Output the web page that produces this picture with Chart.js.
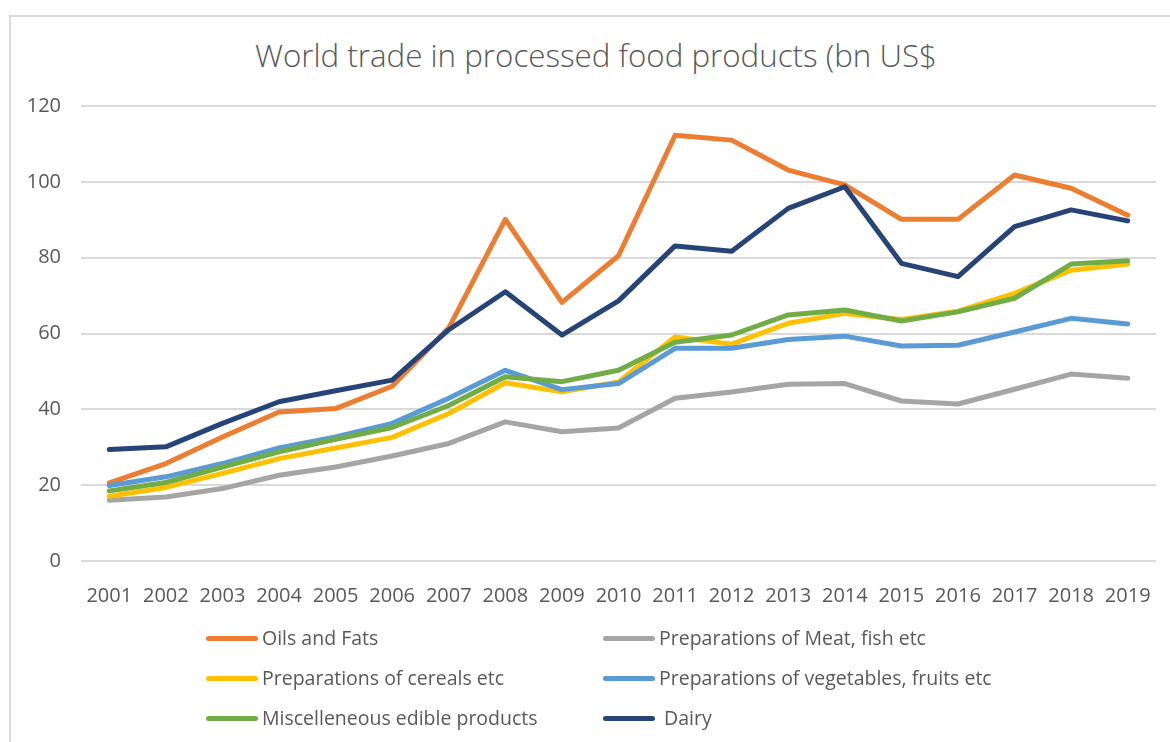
<!DOCTYPE html>
<html>
<head>
<meta charset="utf-8">
<title>World trade in processed food products</title>
<script src="https://cdn.jsdelivr.net/npm/chart.js@4.4.0/dist/chart.umd.min.js"></script>
<style>
  html, body { margin: 0; background: #fff; }
  #wrap { position: relative; width: 1170px; height: 742px; overflow: hidden;
          font-family: 'Open Sans', sans-serif; color: #595959; }
  #frame { position: absolute; left: 9px; top: 15px; right: -20px; bottom: -20px;
           border-left: 2px solid #d9d9d9; border-top: 2px solid #d9d9d9; }
  #title { position: absolute; top: 34px; left: 0; width: 1192px; text-align: center;
           font-size: 31.3px; font-weight: 300; white-space: nowrap; }
  canvas { position: absolute; left: 0; top: 0; }
  .lg { position: absolute; font-size: 19.5px; white-space: nowrap; line-height: 26px; }
  .lg i { position: absolute; left: 0; top: 11px; width: 52px; height: 5px; border-radius: 3px; }
  .lg span { position: absolute; left: 56px; top: 0; }
</style>
</head>
<body>
<div id="wrap">
  <div id="frame"></div>
  <div id="title">World trade in processed food products (bn US$</div>
  <canvas id="chart" width="1170" height="742"></canvas>
  <div id="legend"></div>
</div>
<script>
// years on the category axis
var years = ['2001','2002','2003','2004','2005','2006','2007','2008','2009','2010',
             '2011','2012','2013','2014','2015','2016','2017','2018','2019'];

// bn US$ per year
var oilsFats   = [20.6, 25.7, 32.7, 39.3, 40.2, 46.1, 61.5, 90.1, 68.2, 80.5,
                  112.3, 111.0, 103.1, 99.2, 90.1, 90.1, 101.8, 98.3, 91.2];
var meatFish   = [16.0, 16.9, 19.1, 22.6, 24.8, 27.7, 31.0, 36.7, 34.1, 35.1,
                  42.9, 44.6, 46.6, 46.8, 42.2, 41.4, 45.3, 49.3, 48.2];
var cereals    = [17.1, 19.4, 23.1, 27.0, 29.8, 32.6, 38.9, 47.0, 44.6, 47.2,
                  59.1, 57.2, 62.7, 65.3, 63.7, 65.9, 70.6, 76.7, 78.3];
var vegFruits  = [19.9, 22.2, 25.7, 29.8, 32.7, 36.3, 42.9, 50.3, 45.2, 46.8,
                  56.1, 56.1, 58.4, 59.3, 56.7, 56.9, 60.4, 64.0, 62.5];
var miscEdible = [18.5, 20.7, 24.8, 28.8, 32.1, 35.2, 41.0, 48.6, 47.3, 50.3,
                  57.7, 59.6, 64.9, 66.2, 63.3, 65.7, 69.3, 78.3, 79.2];
var dairy      = [29.4, 30.1, 36.3, 42.0, 44.9, 47.7, 61.0, 71.0, 59.6, 68.6,
                  83.1, 81.7, 93.0, 98.7, 78.5, 75.0, 88.2, 92.6, 89.7];

var seriesNames  = ['Oils and Fats', 'Preparations of Meat, fish etc', 'Preparations of cereals etc',
                    'Preparations of vegetables, fruits etc', 'Miscelleneous edible products', 'Dairy'];
var seriesData   = [oilsFats, meatFish, cereals, vegFruits, miscEdible, dairy];
var seriesColors = ['#ED7D31', '#A5A5A5', '#FFC000', '#5B9BD5', '#70AD47', '#264478'];

var yTicks = { min: 0, max: 120, step: 20 };

// legend: two columns, three rows, filled row by row
var legendCols = [206, 603];
var legendRows = [625, 665, 705];
var lgEl = document.getElementById('legend');
seriesNames.forEach(function(name, i) {
  var d = document.createElement('div');
  d.className = 'lg';
  d.style.left = legendCols[i % 2] + 'px';
  d.style.top  = legendRows[Math.floor(i / 2)] + 'px';
  d.innerHTML = '<i style="background:' + seriesColors[i] + '"></i><span>' +
                (name === 'Dairy' ? '&nbsp;' : '') + name + '</span>';
  lgEl.appendChild(d);
});

var tickFont = { family: "'Open Sans', sans-serif", size: 20 };

new Chart(document.getElementById('chart').getContext('2d'), {
  type: 'line',
  data: {
    labels: years,
    datasets: seriesData.map(function(vals, i) {
      return {
        label: seriesNames[i],
        data: vals,
        borderColor: seriesColors[i],
        backgroundColor: seriesColors[i],
        borderWidth: 5,
        pointRadius: 0,
        tension: 0,
        fill: false,
        borderCapStyle: 'round',
        borderJoinStyle: 'round',
        order: seriesData.length - i   // later series sit on top
      };
    })
  },
  options: {
    responsive: false,
    animation: false,
    devicePixelRatio: 1,
    layout: { padding: { top: 106, right: 14, bottom: 0, left: 0 } },
    plugins: {
      legend: { display: false },
      tooltip: { enabled: false },
      title: { display: false }
    },
    scales: {
      x: {
        offset: true,
        grid: { display: false },
        border: { display: false },
        ticks: { color: '#595959', font: tickFont, padding: 15, maxRotation: 0, autoSkip: false },
        afterFit: function(s) { s.height = 181; }
      },
      y: {
        min: yTicks.min, max: yTicks.max,
        grid: { color: '#d9d9d9', lineWidth: 2, drawTicks: false },
        border: { display: false },
        ticks: { stepSize: yTicks.step, color: '#595959', font: tickFont, padding: 20 },
        afterFit: function(s) { s.width = 81; }
      }
    }
  }
});
</script>
</body>
</html>
